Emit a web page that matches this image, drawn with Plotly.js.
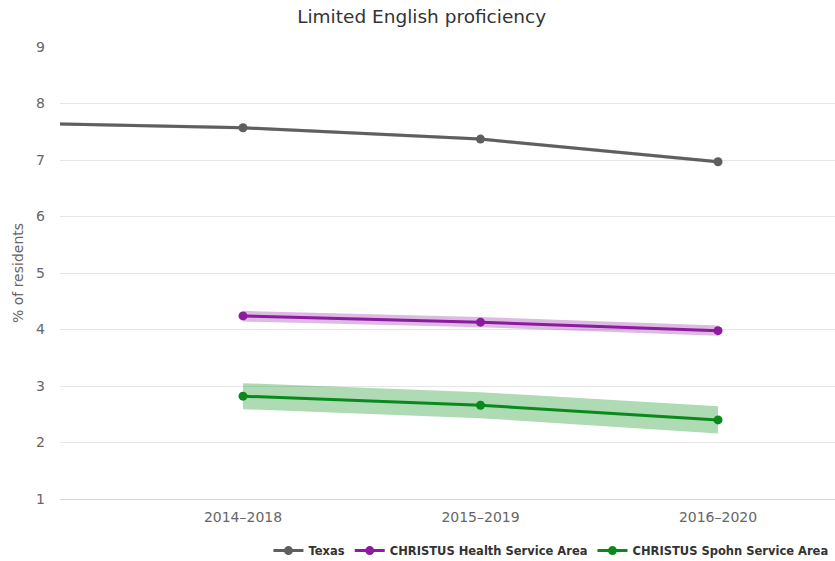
<!DOCTYPE html>
<html>
<head>
<meta charset="utf-8">
<script src="https://cdn.plot.ly/plotly-3.0.1.min.js"></script>
<style>html,body{margin:0;padding:0;background:#fff;}#chart{width:835px;height:561px;}</style>
</head>
<body>
<div id="chart"></div>
<script>
const periods = ["2013–2017", "2014–2018", "2015–2019", "2016–2020"];

const texasValues = [7.66, 7.57, 7.37, 6.97];
const texasLower = [7.63, 7.54, 7.34, 6.94];
const texasUpper = [7.69, 7.60, 7.40, 7.00];

const healthValues = [null, 4.24, 4.13, 3.98];
const healthLower = [null, 4.14, 4.04, 3.89];
const healthUpper = [null, 4.33, 4.22, 4.07];

const spohnValues = [null, 2.82, 2.66, 2.40];
const spohnLower = [null, 2.59, 2.43, 2.16];
const spohnUpper = [null, 3.05, 2.89, 2.64];

const seriesNames = ["Texas", "CHRISTUS Health Service Area", "CHRISTUS Spohn Service Area"];
const lineColors = ["#5f5f5f", "#8b1b9f", "#0a8a1c"];
const bandColors = ["rgba(95,95,95,0.35)", "rgba(139,27,159,0.3)", "rgba(24,150,40,0.35)"];

const series = [
  [texasValues, texasLower, texasUpper],
  [healthValues, healthLower, healthUpper],
  [spohnValues, spohnLower, spohnUpper]
];

const traces = [];
series.forEach((s, i) => {
  traces.push({
    x: periods, y: s[1], type: "scatter", mode: "lines",
    line: {width: 0, color: bandColors[i]}, showlegend: false, hoverinfo: "skip"
  });
  traces.push({
    x: periods, y: s[2], type: "scatter", mode: "lines", fill: "tonexty",
    fillcolor: bandColors[i], line: {width: 0, color: bandColors[i]},
    showlegend: false, hoverinfo: "skip"
  });
});
series.forEach((s, i) => {
  traces.push({
    x: periods, y: s[0], type: "scatter", mode: "lines+markers",
    name: seriesNames[i],
    line: {color: lineColors[i], width: 3},
    marker: {color: lineColors[i], size: 9}
  });
});

const layout = {
  width: 835, height: 561,
  margin: {l: 60, r: 0, t: 47, b: 62, autoexpand: false},
  paper_bgcolor: "#fff", plot_bgcolor: "#fff",
  font: {family: "DejaVu Sans, sans-serif", color: "#666"},
  title: {text: "Limited English proficiency", x: 0.505, xanchor: "center", y: 0.97, yanchor: "middle",
          font: {size: 18.5, color: "#333"}},
  xaxis: {
    type: "category", range: [0.2295, 3.4926],
    showgrid: false, zeroline: false,
    showline: true, linecolor: "#ccd6eb", linewidth: 1,
    ticks: "", tickfont: {size: 14, color: "#666"}, ticklabelstandoff: 5
  },
  yaxis: {
    range: [1, 9], dtick: 1, tick0: 1,
    showgrid: true, gridcolor: "#e6e6e6", gridwidth: 1,
    zeroline: false, showline: false, ticks: "",
    tickfont: {size: 14, color: "#666"}, ticklabelstandoff: 14,
    title: {text: "% of residents", font: {size: 14, color: "#666"}, standoff: 9}
  },
  legend: {
    orientation: "h", x: 0.998, xanchor: "right", y: -0.082, yanchor: "top",
    font: {size: 11.5, color: "#333", family: "DejaVu Sans, sans-serif", weight: "bold"},
    itemwidth: 30, traceorder: "normal"
  },
  showlegend: true
};

Plotly.newPlot("chart", traces, layout, {displayModeBar: false, staticPlot: true});
</script>
</body>
</html>
